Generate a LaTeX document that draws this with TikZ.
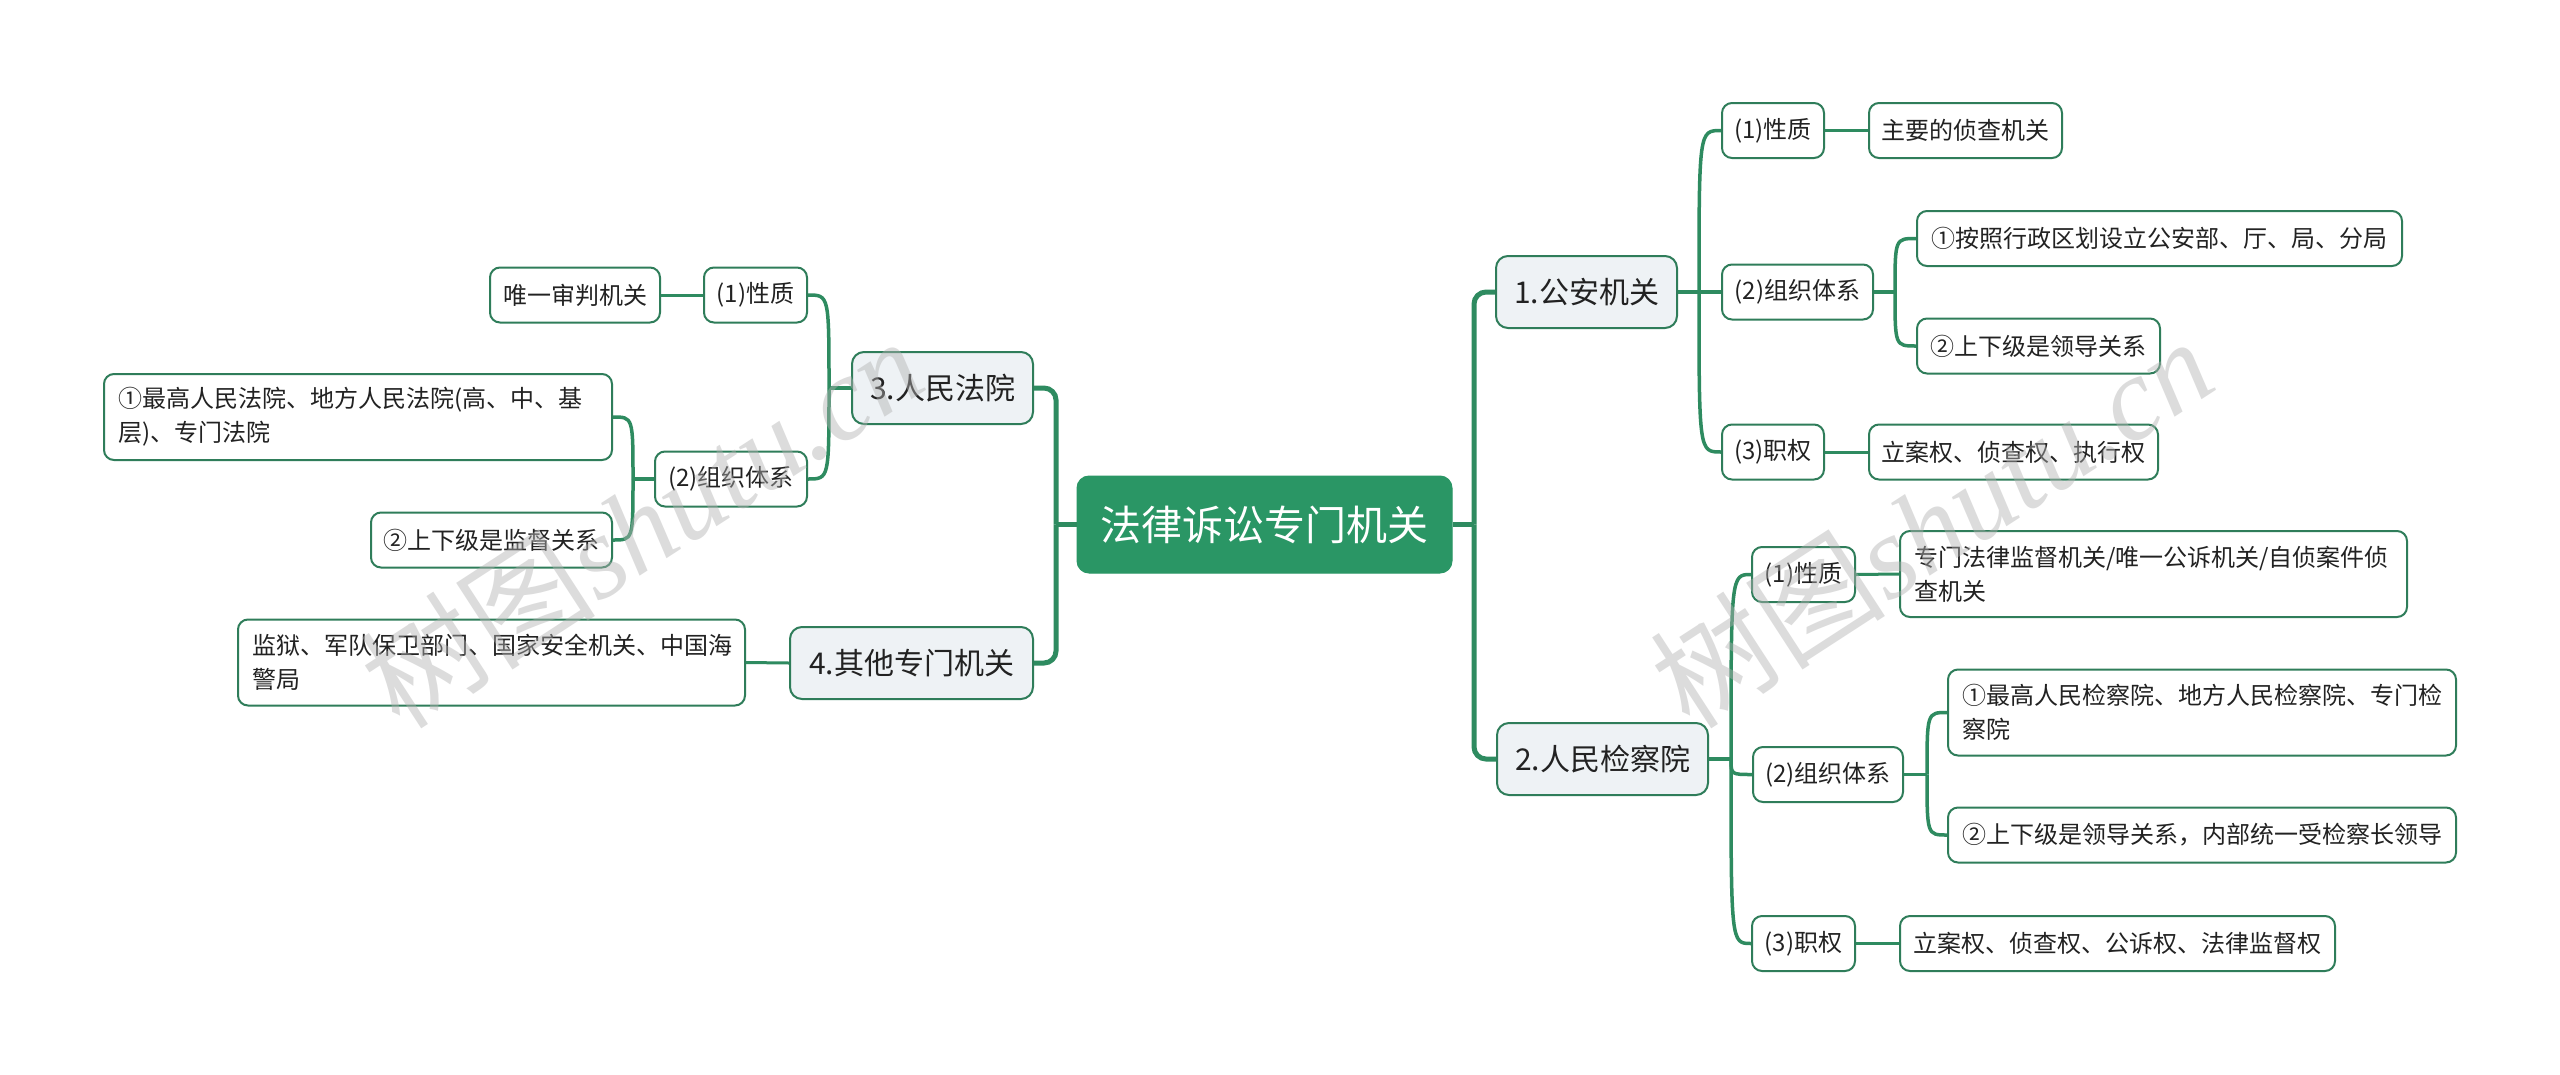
\documentclass[tikz,border=0pt]{standalone}
\usepackage{fontspec}
\setmainfont{Noto Sans CJK SC}
\newfontfamily\wmlatin{Liberation Serif}
\definecolor{lg}{HTML}{2E8B60}
\definecolor{bd}{HTML}{2F7D5A}
\definecolor{cfill}{HTML}{2A9665}
\definecolor{lonefill}{HTML}{EEF2F5}
\definecolor{txt}{HTML}{222222}
\begin{document}
\begin{tikzpicture}[x=1pt,y=-1pt,
  root/.style={draw=cfill, fill=cfill, rounded corners=12pt, text=white, font=\fontsize{41}{49}\selectfont, inner sep=0pt, line width=1pt},
  lone/.style={draw=bd, fill=lonefill, rounded corners=12pt, text=txt, font=\fontsize{30}{36}\selectfont, inner sep=0pt, line width=2pt, minimum height=72pt},
  ltwo/.style={draw=bd, fill=white, rounded corners=10pt, text=txt, font=\fontsize{24}{34}\selectfont, inner sep=0pt, line width=2pt, minimum height=55pt},
  multi/.style={ltwo, align=left, text width=480pt, inner xsep=14pt, minimum height=86pt},
  mainc/.style={draw=lg, line width=5pt, rounded corners=12pt},
  subc/.style={draw=lg, line width=3.5pt},
  leafc/.style={draw=lg, line width=3pt},
  wm/.style={rotate=33, text=gray!60, opacity=0.45, font=\fontsize{118}{118}\selectfont}
]
\fill[white] (0,0) rectangle (2560,1074);
\path[use as bounding box] (0,0) rectangle (2560,1074);

% root
\node[root, minimum width=375pt, minimum height=97pt] (root) at (1264.5,524.5) {法律诉讼专门机关};

% level 1
\node[lone, minimum width=181pt] (la) at (1586.5,292) {1.公安机关};
\node[lone, minimum width=211pt] (lb) at (1602.5,759) {2.人民检察院};
\node[lone, minimum width=181pt] (lc) at (942.5,388) {3.人民法院};
\node[lone, minimum width=243pt] (ld) at (911.5,663) {4.其他专门机关};

% 公安机关
\node[ltwo, minimum width=102pt] (a1) at (1773,130.5) {(1)性质};
\node[ltwo, minimum width=193pt] (a1l) at (1965.5,130.5) {主要的侦查机关};
\node[ltwo, minimum width=151pt] (a2) at (1797.5,292) {(2)组织体系};
\node[ltwo, minimum width=485pt] (a2a) at (2159.5,238.5) {①按照行政区划设立公安部、厅、局、分局};
\node[ltwo, minimum width=243pt] (a2b) at (2038.5,346) {②上下级是领导关系};
\node[ltwo, minimum width=102pt] (a3) at (1773,452) {(3)职权};
\node[ltwo, minimum width=289pt] (a3l) at (2013.5,452) {立案权、侦查权、执行权};

% 人民检察院
\node[ltwo, minimum width=103pt] (b1) at (1803.5,574.5) {(1)性质};
\node[multi, text width=479pt] (b1l) at (2153.5,574) {专门法律监督机关/唯一公诉机关/自侦案件侦\\查机关};
\node[ltwo, minimum width=150pt] (b2) at (1828,774.5) {(2)组织体系};
\node[multi, text width=480pt] (b2a) at (2202,712.5) {①最高人民检察院、地方人民检察院、专门检\\察院};
\node[ltwo, minimum width=508pt] (b2b) at (2202,835) {②上下级是领导关系，内部统一受检察长领导};
\node[ltwo, minimum width=103pt] (b3) at (1803.5,943.5) {(3)职权};
\node[ltwo, minimum width=435pt] (b3l) at (2117.5,943.5) {立案权、侦查权、公诉权、法律监督权};

% 人民法院
\node[ltwo, minimum width=103pt] (c1) at (755.5,295) {(1)性质};
\node[ltwo, minimum width=170pt] (c1l) at (575,295) {唯一审判机关};
\node[ltwo, minimum width=152pt] (c2) at (731,479) {(2)组织体系};
\node[multi, text width=480pt] (c2a) at (358,417) {①最高人民法院、地方人民法院(高、中、基\\层)、专门法院};
\node[ltwo, minimum width=241pt] (c2b) at (491.5,540) {②上下级是监督关系};

% 其他
\node[multi, text width=479pt] (d1l) at (491.5,662.5) {监狱、军队保卫部门、国家安全机关、中国海\\警局};

% bus points
\coordinate (rbus) at (1474,524.5);
\coordinate (lbus) at (1056,524.5);
\coordinate (abus) at (1699,292);
\coordinate (a2bus) at (1895,292);
\coordinate (bbus) at (1731,759);
\coordinate (b2bus) at (1927,774.5);
\coordinate (cbus) at (829,388);
\coordinate (c2bus) at (633,479);

% main connectors
\draw[mainc] (root.east) -- (rbus);
\draw[mainc] (rbus) |- (la.west);
\draw[mainc] (rbus) |- (lb.west);
\draw[mainc] (root.west) -- (lbus);
\draw[mainc] (lbus) |- (lc.east);
\draw[mainc] (lbus) |- (ld.east);

% 公安
\draw[subc] (la.east) -- (abus);
\draw[subc] (abus) .. controls (abus |- a1.west) and (abus |- a1.west) .. (a1.west);
\draw[subc] (abus) -- (a2.west);
\draw[subc] (abus) .. controls (abus |- a3.west) and (abus |- a3.west) .. (a3.west);
\draw[leafc] (a1.east) -- (a1l.west);
\draw[leafc] (a3.east) -- (a3l.west);
\draw[subc] (a2.east) -- (a2bus);
\draw[subc] (a2bus) .. controls (a2bus |- a2a.west) and (a2bus |- a2a.west) .. (a2a.west);
\draw[subc] (a2bus) .. controls (a2bus |- a2b.west) and (a2bus |- a2b.west) .. (a2b.west);

% 检察
\draw[subc] (lb.east) -- (bbus);
\draw[subc] (bbus) .. controls (bbus |- b1.west) and (bbus |- b1.west) .. (b1.west);
\draw[subc] (bbus) .. controls (bbus |- b2.west) and (bbus |- b2.west) .. (b2.west);
\draw[subc] (bbus) .. controls (bbus |- b3.west) and (bbus |- b3.west) .. (b3.west);
\draw[leafc] (b1.east) -- (b1l.west);
\draw[leafc] (b3.east) -- (b3l.west);
\draw[subc] (b2.east) -- (b2bus);
\draw[subc] (b2bus) .. controls (b2bus |- b2a.west) and (b2bus |- b2a.west) .. (b2a.west);
\draw[subc] (b2bus) .. controls (b2bus |- b2b.west) and (b2bus |- b2b.west) .. (b2b.west);

% 法院
\draw[subc] (lc.west) -- (cbus);
\draw[subc] (cbus) .. controls (cbus |- c1.east) and (cbus |- c1.east) .. (c1.east);
\draw[subc] (cbus) .. controls (cbus |- c2.east) and (cbus |- c2.east) .. (c2.east);
\draw[leafc] (c1.west) -- (c1l.east);
\draw[subc] (c2.west) -- (c2bus);
\draw[subc] (c2bus) .. controls (c2bus |- c2a.east) and (c2bus |- c2a.east) .. (c2a.east);
\draw[subc] (c2bus) .. controls (c2bus |- c2b.east) and (c2bus |- c2b.east) .. (c2b.east);

% 其他
\draw[leafc] (ld.west) -- (d1l.east);

% watermarks
\node[wm] (wma) at (641,522) {树图{\wmlatin\itshape shutu.cn}};
\node[wm] (wmb) at (1931,522) {树图{\wmlatin\itshape shutu.cn}};
\end{tikzpicture}
\end{document}
